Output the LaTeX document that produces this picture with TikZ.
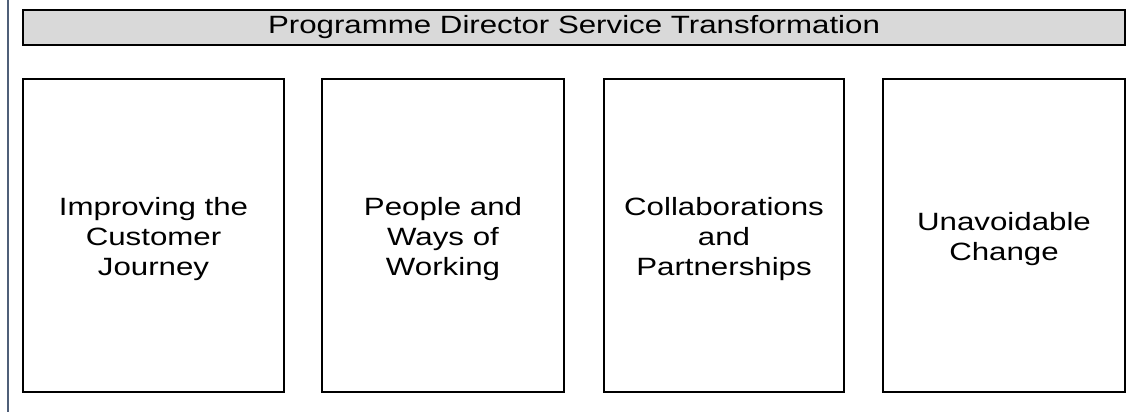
\documentclass[tikz,border=0pt]{standalone}
\usepackage{fontspec}
\setmainfont{Liberation Sans}
\newfontfamily\widesans[FakeStretch=1.25]{Liberation Sans}
\definecolor{edgeblue}{HTML}{4F5F78}
\definecolor{titlegrey}{HTML}{D9D9D9}

\tikzset{every picture/.style={line width=0.75pt}}
\tikzset{
  titlebox/.style={draw=black, fill=titlegrey, line width=1.5pt, minimum width=1102pt, minimum height=35pt, inner sep=0pt, font=\widesans\fontsize{25}{30}\selectfont},
  workbox/.style={draw=black, line width=1.5pt, minimum width=#1, minimum height=313pt, inner sep=0pt},
  worktext/.style={inner sep=0pt, align=center, yshift=-4pt, font=\widesans\fontsize{25}{30}\selectfont},
}

\begin{document}
\begin{tikzpicture}[x=1pt,y=1pt,yscale=-1]
	\useasboundingbox (0,0) rectangle (1137,412);
	
	%Straight Lines [left edge]
	\draw [edgeblue, line width=2pt] (7.5,0) -- (7.5,412) ;
	
	%Shape: Rectangle [title]
	\node [titlebox] (title) at (574,27.5) {Programme Director Service Transformation};
	
	%Shape: Rectangle [work streams]
	\node [workbox=261pt] (journey) at (153.5,235.5) {};
	\node [workbox=242pt] (people) at (443,235.5) {};
	\node [workbox=240pt] (partners) at (724,235.5) {};
	\node [workbox=242pt] (change) at (1004,235.5) {};
	
	% Text Node
	\node [worktext] (journeytxt) at (journey.center) {Improving the\\Customer\\Journey};
	% Text Node
	\node [worktext] (peopletxt) at (people.center) {People and\\Ways of\\Working};
	% Text Node
	\node [worktext] (partnerstxt) at (partners.center) {Collaborations\\and\\Partnerships};
	% Text Node
	\node [worktext] (changetxt) at (change.center) {Unavoidable\\Change};
	
\end{tikzpicture}
\end{document}
